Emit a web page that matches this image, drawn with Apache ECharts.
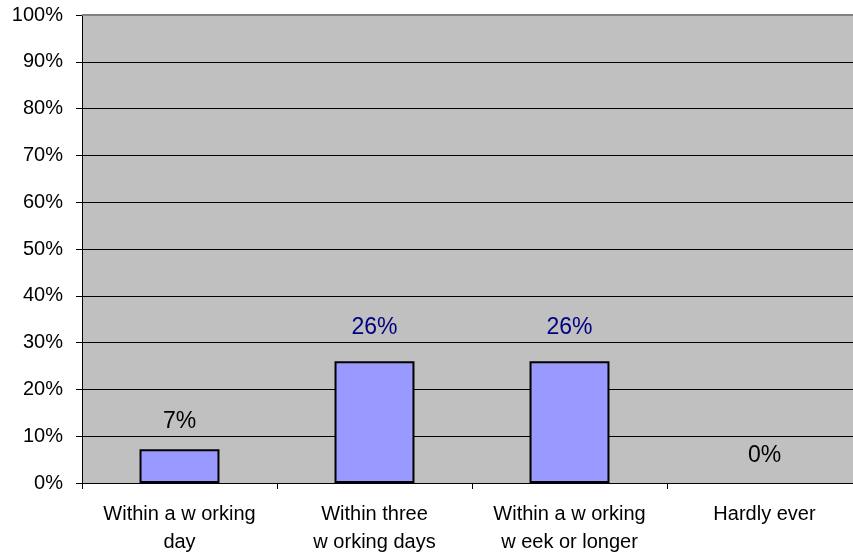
<!DOCTYPE html>
<html><head><meta charset="utf-8">
<script src="https://cdn.jsdelivr.net/npm/echarts@6/dist/echarts.min.js"></script>
<style>html,body{margin:0;padding:0;background:#fff;overflow:hidden;width:853px;height:560px}#c{width:862px;height:560px}</style>
</head><body><div id="c"></div>
<script>
const categories = ["Within a w orking\nday", "Within three\nw orking days", "Within a w orking\nw eek or longer", "Hardly ever"];
const values = [7.2, 26, 26, 0];
const valueLabels = ["7%", "26%", "26%", "0%"];
const labelColors = ["#000000", "#000080", "#000080", "#000000"];

const chart = echarts.init(document.getElementById('c'), null, {renderer: 'canvas'});
chart.setOption({
  animation: false,
  backgroundColor: '#ffffff',
  grid: {left: 82, right: 0, top: 15, height: 468, containLabel: false, show: true, backgroundColor: '#C0C0C0', borderWidth: 0},
  xAxis: {
    type: 'category', data: categories,
    axisLine: {show: true, lineStyle: {color: '#000', width: 1}},
    axisTick: {show: true, length: 6, alignWithLabel: false, lineStyle: {color: '#000'}},
    axisLabel: {color: '#000', fontFamily: 'Liberation Sans', fontSize: 20, lineHeight: 28, margin: 17, interval: 0}
  },
  yAxis: {
    type: 'value', min: 0, max: 100, interval: 10,
    axisLine: {show: true, lineStyle: {color: '#000', width: 1}},
    axisTick: {show: true, length: 6, lineStyle: {color: '#000'}},
    axisLabel: {color: '#000', fontFamily: 'Liberation Sans', fontSize: 20, margin: 19, formatter: '{value}%'},
    splitLine: {show: true, lineStyle: {color: '#000', width: 1}}
  },
  series: [{
    type: 'bar',
    data: values.map((v, i) => ({
      value: v,
      label: {color: labelColors[i], distance: labelColors[i] === '#000080' ? 22 : 16},
      itemStyle: v === 0 ? {borderWidth: 0} : {}
    })),
    barWidth: '41%',
    itemStyle: {color: '#9999FF', borderColor: '#000', borderWidth: 2},
    label: {show: true, position: 'top', fontFamily: 'Liberation Sans', fontSize: 23,
      formatter: p => valueLabels[p.dataIndex]}
  }],
  graphic: [{type: 'line', shape: {x1: 82, y1: 15, x2: 862, y2: 15}, style: {stroke: '#808080', lineWidth: 2}, z: 100}]
});
</script></body></html>
